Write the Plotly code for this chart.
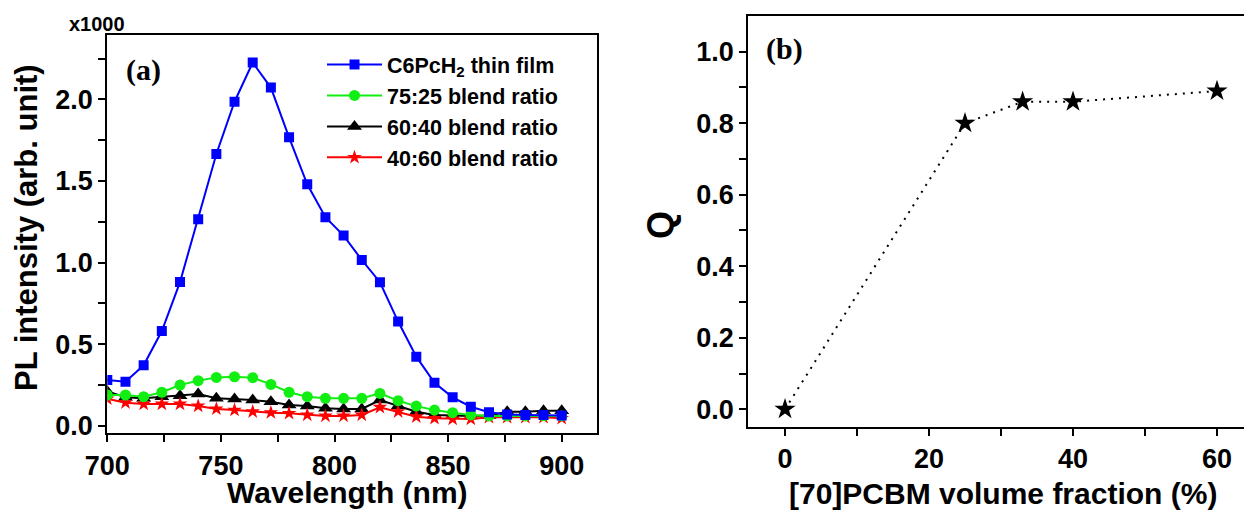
import plotly.graph_objects as go

# ---- panel (a): PL spectra (intensity in units of 1000) ----
wavelength = [700, 708, 716, 724, 732, 740, 748, 756, 764, 772, 780, 788, 796,
              804, 812, 820, 828, 836, 844, 852, 860, 868, 876, 884, 892, 900]
pl_film = [0.28, 0.27, 0.37, 0.58, 0.88, 1.265, 1.665, 1.985, 2.225, 2.072, 1.767, 1.479, 1.278,
           1.165, 1.016, 0.879, 0.638, 0.423, 0.263, 0.174, 0.116, 0.082, 0.068, 0.065, 0.065, 0.062]
pl_75_25 = [0.188, 0.188, 0.178, 0.205, 0.249, 0.276, 0.296, 0.300, 0.294, 0.253, 0.205, 0.178, 0.168,
            0.168, 0.168, 0.198, 0.153, 0.120, 0.096, 0.080, 0.066, 0.060, 0.060, 0.060, 0.061, 0.060]
pl_60_40 = [0.210, 0.175, 0.168, 0.178, 0.184, 0.194, 0.168, 0.163, 0.157, 0.147, 0.127, 0.120, 0.107,
            0.103, 0.103, 0.157, 0.120, 0.086, 0.066, 0.062, 0.060, 0.062, 0.086, 0.086, 0.092, 0.092]
pl_40_60 = [0.165, 0.141, 0.133, 0.133, 0.133, 0.121, 0.103, 0.096, 0.086, 0.080, 0.076, 0.066, 0.060,
            0.060, 0.066, 0.113, 0.086, 0.055, 0.045, 0.041, 0.041, 0.051, 0.051, 0.051, 0.051, 0.045]

# ---- panel (b): quenching vs [70]PCBM fraction ----
pcbm_fraction = [0, 25, 33, 40, 60]
q_values = [0.0, 0.80, 0.86, 0.86, 0.89]

BOLD = dict(family="Liberation Sans, Arial, sans-serif", weight="bold", color="black")
SERIF = dict(family="Liberation Serif, Times New Roman, serif", weight="bold", color="black")

fig = go.Figure()

# draw order: black, red, green, blue (legend order set by legendrank)
fig.add_trace(go.Scatter(
    x=wavelength, y=pl_60_40, name="60:40 blend ratio", mode="lines+markers",
    line=dict(color="black", width=2),
    marker=dict(symbol="triangle-up", size=13, color="black"),
    legendrank=3, xaxis="x", yaxis="y"))
fig.add_trace(go.Scatter(
    x=wavelength, y=pl_40_60, name="40:60 blend ratio", mode="lines+markers",
    line=dict(color="#ff0000", width=2),
    marker=dict(symbol="star", size=11, color="#ff0000"),
    legendrank=4, xaxis="x", yaxis="y"))
fig.add_trace(go.Scatter(
    x=wavelength, y=pl_75_25, name="75:25 blend ratio", mode="lines+markers",
    line=dict(color="#11ee11", width=2),
    marker=dict(symbol="circle", size=11, color="#11ee11"),
    legendrank=2, xaxis="x", yaxis="y"))
fig.add_trace(go.Scatter(
    x=wavelength, y=pl_film, name="C6PcH<sub>2</sub> thin film", mode="lines+markers",
    line=dict(color="#0000ff", width=2),
    marker=dict(symbol="square", size=10, color="#0000ff"),
    legendrank=1, xaxis="x", yaxis="y"))

fig.add_trace(go.Scatter(
    x=pcbm_fraction, y=q_values, mode="lines+markers", showlegend=False,
    line=dict(color="black", width=2, dash="2px,6px"),
    marker=dict(symbol="star", size=16, color="black"),
    xaxis="x2", yaxis="y2"))

W, H = 1244, 510


def px(x):
    return x / W


def py(y):
    return 1 - y / H


axis_common = dict(
    showgrid=False, zeroline=False, showline=True, linecolor="black", linewidth=2,
    ticks="outside", ticklen=7, tickwidth=2, tickcolor="black", automargin=False,
    tickfont=dict(size=27, **BOLD),
)

fig.update_layout(
    width=W, height=H,
    margin=dict(l=0, r=0, t=0, b=0, autoexpand=False),
    paper_bgcolor="white", plot_bgcolor="white",
    showlegend=True,
    legend=dict(
        x=px(322), y=py(44), xanchor="left", yanchor="top",
        bgcolor="rgba(0,0,0,0)", borderwidth=0,
        font=dict(size=21.5, **BOLD), itemwidth=55, tracegroupgap=0,
    ),
    xaxis=dict(
        domain=[px(107.3), px(596.7)], range=[700, 915.4], anchor="y",
        tickvals=[700, 750, 800, 850, 900], mirror=True,
        minor=dict(dtick=25, tick0=700, ticks="outside", ticklen=7, tickwidth=2, tickcolor="black"),
        **axis_common),
    yaxis=dict(
        domain=[py(433.3), py(35)], range=[-0.0466, 2.394], anchor="x",
        tickvals=[0.0, 0.5, 1.0, 1.5, 2.0], ticktext=["0.0", "0.5", "1.0", "1.5", "2.0"],
        mirror=True,
        minor=dict(dtick=0.25, tick0=0, ticks="outside", ticklen=7, tickwidth=2, tickcolor="black"),
        **axis_common),
    xaxis2=dict(
        domain=[px(748.3), 1.0], range=[-5.1, 63.75], anchor="y2",
        tickvals=[0, 20, 40, 60], mirror=True,
        minor=dict(dtick=10, tick0=0, ticks="outside", ticklen=7, tickwidth=2, tickcolor="black"),
        **axis_common),
    yaxis2=dict(
        domain=[py(426.7), py(16)], range=[-0.0487, 1.0998], anchor="x2",
        tickvals=[0.0, 0.2, 0.4, 0.6, 0.8, 1.0],
        ticktext=["0.0", "0.2", "0.4", "0.6", "0.8", "1.0"],
        mirror=False,
        minor=dict(dtick=0.1, tick0=0, ticks="outside", ticklen=7, tickwidth=2, tickcolor="black"),
        **axis_common),
)

annotations = [
    dict(text="x1000", x=px(97), y=py(24), font=dict(size=20, **BOLD)),
    dict(text="(a)", x=px(143), y=py(70), font=dict(size=30, **SERIF)),
    dict(text="(b)", x=px(784), y=py(49), font=dict(size=30, **SERIF)),
    dict(text="PL intensity (arb. unit)", x=px(27), y=py(228), textangle=-90,
         font=dict(size=31, **BOLD)),
    dict(text="Wavelength (nm)", x=px(347), y=py(492), font=dict(size=30, **BOLD)),
    dict(text="Q", x=px(660), y=py(225), textangle=-90, font=dict(size=36, **BOLD)),
    dict(text="[70]PCBM volume fraction (%)", x=px(1003), y=py(493),
         font=dict(size=30, **BOLD)),
]
for a in annotations:
    a.update(xref="paper", yref="paper", showarrow=False, xanchor="center", yanchor="middle")
fig.update_layout(annotations=annotations)

fig.write_html("out.html")
